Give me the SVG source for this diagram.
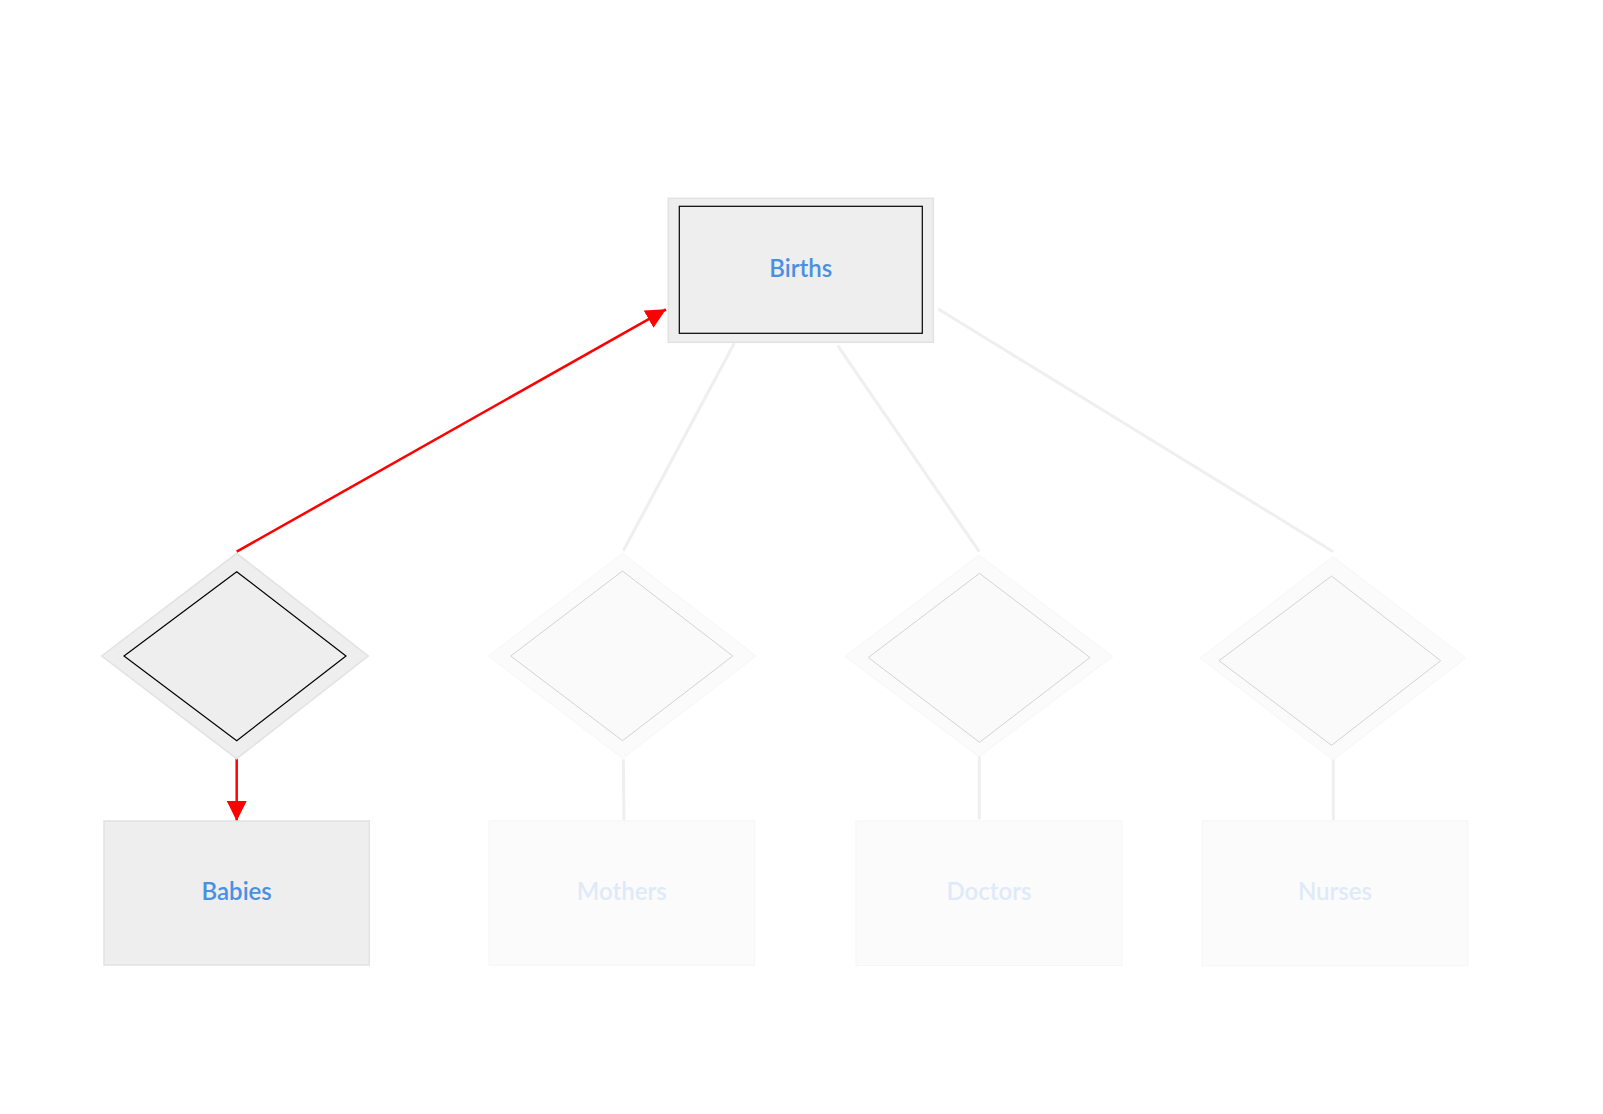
<svg xmlns="http://www.w3.org/2000/svg" width="1603" height="1114" viewBox="0 0 1603 1114">
<style>
.lbl{font-family:Lato,"Noto Sans","Open Sans",sans-serif;font-size:24px;font-weight:600;text-anchor:middle}
.on{fill:#4a90e2}
.off{fill:#dfeaf9}
.gline{stroke:#efefef;stroke-width:3;fill:none}
.rline{stroke:#ff0000;stroke-width:2.5;fill:none}
.activeOuter{fill:#eeeeee;stroke:#e2e2e2;stroke-width:1.5}
.activeInner{fill:#eeeeee;stroke:#000000;stroke-width:1.2}
.fadeOuter{fill:#fbfbfb;stroke:#f6f6f6;stroke-width:1}
.fadeInner{fill:#fafafa;stroke:#d4d4d4;stroke-width:1}
</style>
<defs>
<marker id="arr" markerUnits="userSpaceOnUse" markerWidth="20" markerHeight="20" viewBox="0 0 18 18" refX="18" refY="9" orient="auto">
<path d="M0,0 L18,9 L0,18 Z" fill="#ff0000"/>
</marker>
</defs>
<rect width="1603" height="1114" fill="#ffffff"/>
<g id="connectors">
<line class="rline" x1="236.7" y1="551.7" x2="666" y2="309.3" marker-end="url(#arr)"/>
<line class="rline" x1="236.7" y1="754.3" x2="236.7" y2="821" marker-end="url(#arr)"/>
<line class="gline" x1="734.3" y1="343.3" x2="623.3" y2="550.7"/>
<line class="gline" x1="623.3" y1="759.3" x2="624" y2="824"/>
<line class="gline" x1="837.7" y1="345.7" x2="979.3" y2="551.7"/>
<line class="gline" x1="979.3" y1="754" x2="979.3" y2="819.3"/>
<line class="gline" x1="938.3" y1="309" x2="1333.3" y2="551.7"/>
<line class="gline" x1="1333.3" y1="756" x2="1333.3" y2="820"/>
</g>
<g id="births">
<rect class="activeOuter" x="668.3" y="198.3" width="265" height="144"/>
<rect class="activeInner" x="679.3" y="206.3" width="243" height="127"/>
<text class="lbl on" x="800.8" y="277">Births</text>
</g>
<g id="rel-babies">
<polygon class="activeOuter" points="236.7,553.3 368.3,656 236.7,758.7 101.7,656"/>
<polygon class="activeInner" points="236.7,571.7 346,656 236.7,740.7 124,656"/>
</g>
<g id="rel-mothers">
<polygon class="fadeOuter" points="622.5,553.3 756,656 622.5,758.3 488.3,656"/>
<polygon class="fadeInner" points="622.5,571 732.7,656 622.5,740.7 510.7,656"/>
</g>
<g id="rel-doctors">
<polygon class="fadeOuter" points="979,555 1112.7,656.5 979,756.7 845,656.5"/>
<polygon class="fadeInner" points="979.5,573.3 1090,657.5 979.5,742.3 868.3,657.5"/>
</g>
<g id="rel-nurses">
<polygon class="fadeOuter" points="1333,556.7 1465.7,658 1333,760 1200,658"/>
<polygon class="fadeInner" points="1331.5,576 1440.7,660.7 1331.5,745.3 1219,660.7"/>
</g>
<g id="babies">
<rect class="activeOuter" x="104" y="821" width="265.3" height="144"/>
<text class="lbl on" x="236.7" y="900">Babies</text>
</g>
<g id="mothers">
<rect class="fadeOuter" x="489" y="820.7" width="265.7" height="144.5"/>
<text class="lbl off" x="621.8" y="900">Mothers</text>
</g>
<g id="doctors">
<rect class="fadeOuter" x="856" y="821" width="266" height="144.5"/>
<text class="lbl off" x="989" y="900">Doctors</text>
</g>
<g id="nurses">
<rect class="fadeOuter" x="1202.3" y="820.7" width="265.4" height="145"/>
<text class="lbl off" x="1335" y="900">Nurses</text>
</g>
</svg>
